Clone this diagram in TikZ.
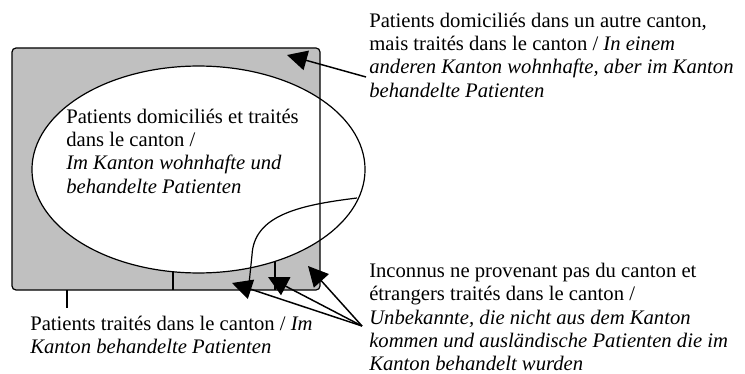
\documentclass[tikz,border=0pt]{standalone}
\usepackage{fontspec}
\setmainfont{Liberation Serif}
\usetikzlibrary{arrows.meta}
\definecolor{boxgray}{HTML}{C0C0C0}
\begin{document}
\begin{tikzpicture}[x=0.75pt,y=-0.75pt,
  outline/.style={line width=0.9pt,black},
  pointer/.style={line width=1.1pt,-{Triangle[length=15pt,width=15pt]}},
  label/.style={anchor=north west,inner sep=0pt,align=left,
    font=\fontsize{15.5pt}{17.5pt}\selectfont}]
\useasboundingbox (0,0) rectangle (745,374);
% region box
\coordinate (boxNW) at (12,48);
\coordinate (boxSE) at (320,290);
\fill[boxgray,rounded corners=3pt] (boxNW) rectangle (boxSE);
% ellipse
\coordinate (ellC) at (198.5,169.5);
\filldraw[outline,fill=white] (ellC) ellipse [x radius=124.9pt, y radius=77.6pt];
\draw[outline,rounded corners=3pt] (boxNW) rectangle (boxSE);
% dividers
\coordinate (d1t) at (173,271.8);
\coordinate (d1b) at (173,290);
\coordinate (d2t) at (275,261.4);
\coordinate (d2b) at (275,290);
\draw[outline] (d1t) -- (d1b);
\draw[outline] (d2t) -- (d2b);
% curve
\coordinate (cvA) at (357,198);
\coordinate (cvB) at (252,255);
\coordinate (cvC) at (249,284);
\draw[outline] (cvA) .. controls (300,205) and (254,215) .. (cvB) -- (cvC);
% texts
\node[label] (tTR) at (369,12.5) {Patients domiciliés dans un autre canton,\\
mais traités dans le canton / \textit{In einem}\\
\textit{anderen Kanton wohnhafte, aber im Kanton}\\
\textit{behandelte Patienten}};
\node[label] (tIn) at (66,108.5) {Patients domiciliés et traités\\
dans le canton /\\
\textit{Im Kanton wohnhafte und}\\
\textit{behandelte Patienten}};
\node[label] (tBL) at (30,316) {Patients traités dans le canton / \textit{Im}\\
\textit{Kanton behandelte Patienten}};
\node[label] (tBR) at (369,263) {Inconnus ne provenant pas du canton et\\
étrangers traités dans le canton /\\
\textit{Unbekannte, die nicht aus dem Kanton}\\
\textit{kommen und ausländische Patienten die im}\\
\textit{Kanton behandelt wurden}};
% connectors
\coordinate (trStart) at (366,77);
\coordinate (trTip) at (287,55);
\draw[pointer] (trStart) -- (trTip);
\coordinate (conv) at (362,326);
\coordinate (tipA) at (232,283);
\coordinate (tipB) at (268,277);
\coordinate (tipC) at (308,266);
\draw[pointer] (conv) -- (tipA);
\draw[pointer] (conv) -- (tipB);
\draw[pointer] (conv) -- (tipC);
\coordinate (blTop) at (67,290);
\coordinate (blBot) at (67,308);
\draw[outline] (blTop) -- (blBot);
\end{tikzpicture}
\end{document}
